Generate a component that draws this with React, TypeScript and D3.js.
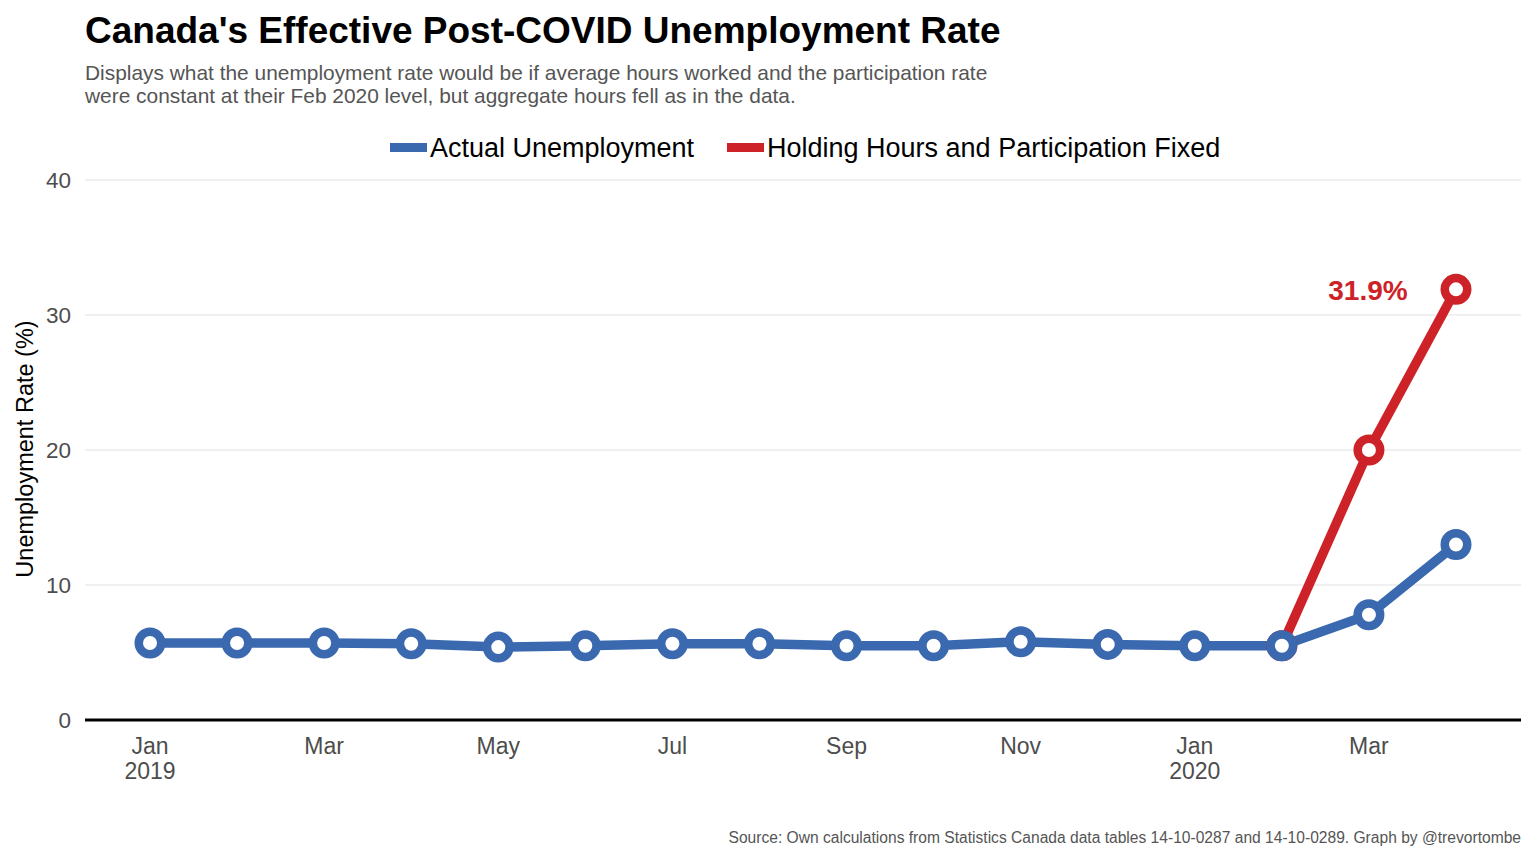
import React, { useEffect, useRef } from 'react';
import * as d3 from 'd3';

const months = [
  '2019-01', '2019-02', '2019-03', '2019-04', '2019-05', '2019-06', '2019-07', '2019-08',
  '2019-09', '2019-10', '2019-11', '2019-12', '2020-01', '2020-02', '2020-03', '2020-04',
];
const actualRate = [5.7, 5.7, 5.7, 5.65, 5.4, 5.5, 5.65, 5.65, 5.5, 5.5, 5.8, 5.6, 5.5, 5.5, 7.8, 13.0];
const fixedMonths = ['2020-02', '2020-03', '2020-04'];
const fixedRate = [5.5, 20.0, 31.9];
const yTicks = [0, 10, 20, 30, 40];
const xTickMonths = ['2019-01', '2019-03', '2019-05', '2019-07', '2019-09', '2019-11', '2020-01', '2020-03'];

const BLUE = '#3a69b0';
const RED = '#cd2228';
const FONT = '"Liberation Sans", Arial, sans-serif';

const parse = d3.timeParse('%Y-%m');

const App: React.FC = () => {
  const svgRef = useRef<SVGSVGElement>(null);

  useEffect(() => {
    document.body.style.margin = '0';
    if (!svgRef.current) return;
    const svg = d3.select(svgRef.current);
    svg.selectAll('*').remove();

    const width = 1536;
    const height = 864;
    const panel = { left: 85, right: 1521, top: 180, bottom: 720 };

    // months are evenly spaced along the axis
    const x = d3.scalePoint<string>().domain(months).range([150, 1456]);
    const y = d3.scaleLinear().domain([0, 40]).range([panel.bottom, panel.top]);

    svg.append('rect').attr('width', width).attr('height', height).attr('fill', 'white');

    // Title & subtitle
    svg.append('text')
      .attr('x', 85).attr('y', 43)
      .style('font-family', FONT).style('font-size', '37px').style('font-weight', 'bold')
      .style('fill', '#000')
      .text("Canada's Effective Post-COVID Unemployment Rate");

    const sub = [
      'Displays what the unemployment rate would be if average hours worked and the participation rate',
      'were constant at their Feb 2020 level, but aggregate hours fell as in the data.',
    ];
    svg.append('g').selectAll('text').data(sub).enter().append('text')
      .attr('x', 85).attr('y', (d, i) => 80 + i * 23)
      .style('font-family', FONT).style('font-size', '20.9px').style('fill', '#555555')
      .text(d => d);

    // Legend
    const legendItems = [
      { label: 'Actual Unemployment', color: BLUE, x: 390 },
      { label: 'Holding Hours and Participation Fixed', color: RED, x: 727 },
    ];
    const legend = svg.append('g');
    legendItems.forEach(item => {
      legend.append('rect')
        .attr('x', item.x).attr('y', 143).attr('width', 37).attr('height', 9)
        .attr('fill', item.color);
      legend.append('text')
        .attr('x', item.x + 40).attr('y', 157)
        .style('font-family', FONT).style('font-size', '27px').style('fill', '#000')
        .text(item.label);
    });

    // Grid
    const g = svg.append('g');
    g.selectAll('.grid').data(yTicks.filter(t => t > 0)).enter().append('line')
      .attr('x1', panel.left).attr('x2', panel.right)
      .attr('y1', d => y(d)).attr('y2', d => y(d))
      .attr('stroke', '#ebebeb').attr('stroke-width', 1.5);

    // Y axis labels
    g.selectAll('.ytick').data(yTicks).enter().append('text')
      .attr('x', 71).attr('y', d => y(d)).attr('dy', '0.36em')
      .attr('text-anchor', 'end')
      .style('font-family', FONT).style('font-size', '22.5px').style('fill', '#4d4d4d')
      .text(d => d);

    svg.append('text')
      .attr('transform', `translate(33, ${(panel.top + panel.bottom) / 2 - 1}) rotate(-90)`)
      .attr('text-anchor', 'middle')
      .style('font-family', FONT).style('font-size', '23.5px').style('fill', '#000')
      .text('Unemployment Rate (%)');

    // X axis labels
    const fmtMonth = d3.timeFormat('%b');
    const xt = g.selectAll('.xtick').data(xTickMonths).enter().append('text')
      .attr('text-anchor', 'middle')
      .style('font-family', FONT).style('font-size', '23px').style('fill', '#4d4d4d');
    xt.append('tspan').attr('x', d => x(d) as number).attr('y', 754)
      .text(d => fmtMonth(parse(d) as Date));
    xt.filter(d => (parse(d) as Date).getMonth() === 0).append('tspan')
      .attr('x', d => x(d) as number).attr('y', 779)
      .text(d => String((parse(d) as Date).getFullYear()));

    // Zero line
    g.append('line')
      .attr('x1', panel.left).attr('x2', panel.right)
      .attr('y1', y(0)).attr('y2', y(0))
      .attr('stroke', '#000').attr('stroke-width', 3);

    const line = d3.line<[string, number]>().x(d => x(d[0]) as number).y(d => y(d[1]));

    const actual: [string, number][] = months.map((m, i) => [m, actualRate[i]]);
    const fixed: [string, number][] = fixedMonths.map((m, i) => [m, fixedRate[i]]);

    const series = [
      { data: fixed, color: RED },
      { data: actual, color: BLUE },
    ];
    series.forEach(s => {
      g.append('path')
        .datum(s.data)
        .attr('d', line)
        .attr('fill', 'none')
        .attr('stroke', s.color)
        .attr('stroke-width', 9.5);
    });
    series.forEach(s => {
      g.selectAll(null).data(s.data).enter().append('circle')
        .attr('cx', d => x(d[0]) as number).attr('cy', d => y(d[1]))
        .attr('r', 11.25)
        .attr('fill', 'white')
        .attr('stroke', s.color)
        .attr('stroke-width', 8.5);
    });

    // Annotation
    const last = fixed[fixed.length - 1];
    svg.append('text')
      .attr('x', (x(last[0]) as number) - 88).attr('y', y(last[1]) + 11)
      .attr('text-anchor', 'middle')
      .style('font-family', FONT).style('font-size', '28px').style('font-weight', 'bold')
      .style('fill', RED)
      .text(`${last[1].toFixed(1)}%`);

    // Caption
    svg.append('text')
      .attr('x', 1521).attr('y', 843)
      .attr('text-anchor', 'end')
      .style('font-family', FONT).style('font-size', '15.6px').style('fill', '#555555')
      .text('Source: Own calculations from Statistics Canada data tables 14-10-0287 and 14-10-0289. Graph by @trevortombe');
  }, []);

  return <svg ref={svgRef} width={1536} height={864} style={{ display: 'block' }} />;
};

export default App;
